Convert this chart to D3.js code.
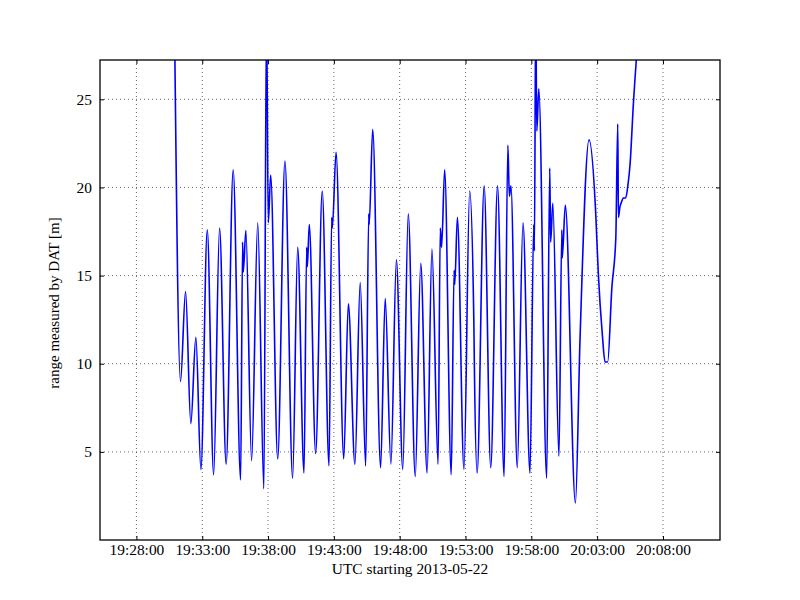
<!DOCTYPE html>
<html>
<head>
<meta charset="utf-8">
<script src="https://cdn.jsdelivr.net/npm/d3@7"></script>
<style>
  html, body { margin: 0; padding: 0; background: #ffffff; }
  svg { display: block; }
  text { font-family: "Liberation Serif", "DejaVu Serif", serif; fill: #000; }
</style>
</head>
<body>
<svg id="chart" width="800" height="600"></svg>
<script>
// ---- data ----
const times = [
  "19:30:53","19:31:21","19:31:44","19:32:08","19:32:31","19:32:54","19:33:23","19:33:52",
  "19:34:19","19:34:49","19:35:21","19:35:55","19:36:04","19:36:07","19:36:19","19:36:45",
  "19:37:13","19:37:41","19:37:53","19:38:01","19:38:12","19:38:44","19:39:17","19:39:52",
  "19:40:15","19:40:44","19:40:56","19:40:59","19:41:08","19:41:37","19:42:07","19:42:38",
  "19:42:50","19:42:53","19:43:10","19:43:45","19:44:06","19:44:36","19:45:00","19:45:25",
  "19:45:39","19:45:41","19:45:57","19:46:33","19:46:54","19:47:20","19:47:45","19:48:14",
  "19:48:39","19:49:11","19:49:36","19:50:05","19:50:27","19:50:55","19:51:05","19:51:11",
  "19:51:25","19:51:55","19:52:08","19:52:11","19:52:23","19:52:53","19:53:19","19:53:38",
  "19:53:40","19:53:53","19:54:25","19:54:55","19:55:26","19:55:56","19:56:13","19:56:20",
  "19:56:27","19:56:56","19:57:22","19:57:54","19:58:11","19:58:14","19:58:20","19:58:25",
  "19:58:34","19:59:10","19:59:24","19:59:28","19:59:38","20:00:06","20:00:19","20:00:21",
  "20:00:35","20:01:21","20:01:42","20:02:23","20:02:54","20:03:05","20:03:24","20:03:36",
  "20:03:48","20:04:07","20:04:25","20:04:34","20:04:37","20:04:44","20:04:52","20:04:59",
  "20:05:10","20:05:20","20:05:30","20:05:45","20:06:06"
];
const ranges = [
  30.0, 9.0, 14.1, 6.6, 11.5, 4.0, 17.6, 3.7,
  17.7, 4.3, 21.0, 3.4, 16.9, 15.2, 17.55, 4.5,
  18.0, 2.9, 30.0, 18.0, 20.7, 4.6, 21.5, 3.5,
  16.6, 3.8, 16.6, 15.5, 17.9, 4.9, 19.8, 4.2,
  18.3, 17.7, 22.0, 4.6, 13.4, 4.3, 14.6, 4.2,
  18.5, 17.9, 23.3, 4.1, 13.7, 4.3, 15.9, 4.0,
  18.5, 3.6, 15.7, 3.8, 16.5, 4.3, 17.7, 16.6,
  21.0, 3.7, 15.3, 14.5, 18.3, 4.0, 19.8, 12.4,
  10.3, 3.8, 20.1, 4.1, 20.1, 3.6, 22.4, 19.5,
  20.1, 4.1, 18.0, 3.8, 17.9, 16.4, 30.0, 23.2,
  25.6, 3.5, 21.1, 16.9, 19.1, 4.75, 17.6, 16.0,
  19.0, 2.1, 11.4, 22.7, 18.4, 15.2, 11.6, 10.1,
  10.1, 14.3, 17.1, 23.6, 18.3, 18.9, 19.2, 19.4,
  19.4, 20.1, 21.3, 24.7, 28.5
];
const xTickLabels = ["19:28:00","19:33:00","19:38:00","19:43:00","19:48:00","19:53:00","19:58:00","20:03:00","20:08:00"];
const yTickValues = [5, 10, 15, 20, 25];
const xDomain = ["19:25:14", "20:12:20"];
const yDomain = [0, 27.23];
const xTitle = "UTC starting 2013-05-22";
const yTitle = "range measured by DAT [m]";

// ---- chart ----
const parse = d3.timeParse("%H:%M:%S");
const fmt = d3.timeFormat("%H:%M:%S");
const data = times.map((t, i) => ({ t: parse(t), v: ranges[i] }));

const W = 800, H = 600;
const m = { left: 100, right: 80, top: 60, bottom: 60 };
const iw = W - m.left - m.right, ih = H - m.top - m.bottom;

const svg = d3.select("#chart");
const g = svg.append("g").attr("transform", `translate(${m.left},${m.top})`);

const x = d3.scaleTime().domain(xDomain.map(parse)).range([0, iw]);
const y = d3.scaleLinear().domain(yDomain).range([ih, 0]);
const xTicks = xTickLabels.map(parse);

// grid
const grid = g.append("g").attr("class", "grid");
grid.selectAll("line.gx").data(xTicks).enter().append("line")
  .attr("x1", d => x(d)).attr("x2", d => x(d)).attr("y1", 0).attr("y2", ih)
  .attr("stroke", "#000").attr("stroke-width", 0.6).attr("stroke-dasharray", "1,3");
grid.selectAll("line.gy").data(yTickValues).enter().append("line")
  .attr("y1", d => y(d)).attr("y2", d => y(d)).attr("x1", 0).attr("x2", iw)
  .attr("stroke", "#000").attr("stroke-width", 0.6).attr("stroke-dasharray", "1,3");

// clip
svg.append("defs").append("clipPath").attr("id", "clip")
  .append("rect").attr("x", 0).attr("y", 0).attr("width", iw).attr("height", ih);

// line
const line = d3.line().x(d => x(d.t)).y(d => y(d.v)).curve(d3.curveMonotoneX);
g.append("path").datum(data)
  .attr("clip-path", "url(#clip)")
  .attr("fill", "none").attr("stroke", "#0000ff").attr("stroke-width", 1.6)
  .attr("stroke-linejoin", "round")
  .attr("d", line);

// axes (ticks inside, mirrored)
const fs = "15.4px";
const xAxisB = d3.axisBottom(x).tickValues(xTicks).tickFormat(fmt).tickSizeInner(-4).tickSizeOuter(0).tickPadding(4);
const xAxisT = d3.axisTop(x).tickValues(xTicks).tickFormat("").tickSizeInner(-4).tickSizeOuter(0);
const yAxisL = d3.axisLeft(y).tickValues(yTickValues).tickFormat(d3.format("d")).tickSizeInner(-4).tickSizeOuter(0).tickPadding(8);
const yAxisR = d3.axisRight(y).tickValues(yTickValues).tickFormat("").tickSizeInner(-4).tickSizeOuter(0);

function styleAxis(sel) {
  sel.select(".domain").remove();
  sel.selectAll(".tick line").attr("stroke", "#000").attr("stroke-width", 1);
  sel.selectAll(".tick text").style("font-family", '"Liberation Serif", "DejaVu Serif", serif')
    .style("font-size", fs).attr("fill", "#000");
}
g.append("g").attr("transform", `translate(0,${ih})`).call(xAxisB).call(styleAxis);
g.append("g").call(xAxisT).call(styleAxis);
g.append("g").call(yAxisL).call(styleAxis);
g.append("g").attr("transform", `translate(${iw},0)`).call(yAxisR).call(styleAxis);

// frame
g.append("rect").attr("x", 0).attr("y", 0).attr("width", iw).attr("height", ih)
  .attr("fill", "none").attr("stroke", "#000").attr("stroke-width", 1.3);

// titles
svg.append("text").attr("x", m.left + iw / 2).attr("y", 574)
  .attr("text-anchor", "middle").style("font-size", fs).text(xTitle);
svg.append("text").attr("transform", `translate(59,${m.top + ih / 2 + 3}) rotate(-90)`)
  .attr("text-anchor", "middle").style("font-size", "15px").text(yTitle);
</script>
</body>
</html>
